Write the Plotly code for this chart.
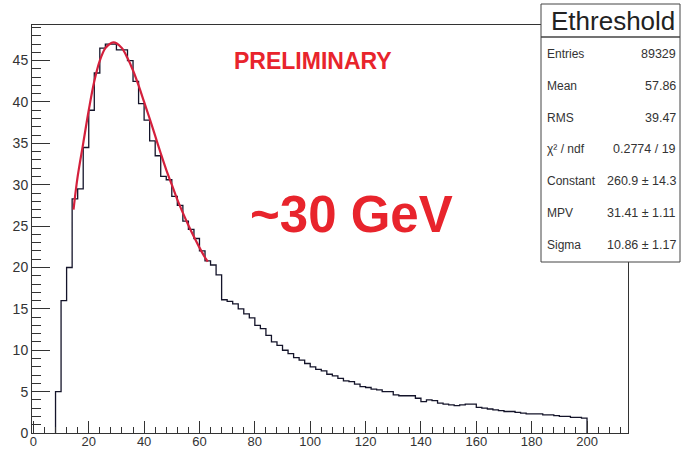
import plotly.graph_objects as go

# ---------------- data ----------------
bin_width = 2
bin_left_edges = list(range(8, 200, 2))  # 8 .. 198
counts = [
    5.0, 16.0, 20.0, 28.3, 29.5, 34.5, 39.0, 43.5, 46.5, 47.0,   # 8-26
    47.0, 46.3, 46.3, 45.0, 42.5, 39.8, 37.8, 35.3, 33.5, 31.0,  # 28-46
    30.6, 28.6, 27.5, 25.6, 24.6, 23.5, 22.0, 20.8, 20.3, 19.1,  # 48-66
    16.1, 15.9, 15.6, 15.0, 14.4, 13.9, 13.0, 12.6, 11.8, 11.0,  # 68-86
    10.6, 10.0, 9.6, 9.1, 8.8, 8.4, 8.0, 7.7, 7.5, 7.1,          # 88-106
    6.9, 6.6, 6.3, 6.2, 5.9, 5.6, 5.5, 5.3, 5.2, 5.0,            # 108-126
    5.0, 4.6, 4.5, 4.5, 4.5, 4.2, 3.8, 4.0, 3.9, 3.6,            # 128-146
    3.5, 3.4, 3.3, 3.4, 3.5, 3.5, 3.1, 3.0, 2.9, 2.8,            # 148-166
    2.7, 2.6, 2.6, 2.5, 2.4, 2.3, 2.3, 2.3, 2.2, 2.2,            # 168-186
    2.1, 2.0, 2.0, 1.9, 1.9, 1.8,                                # 188-198
]

fit_x = [14.5, 16, 18, 20, 22, 24, 26, 28, 29, 30, 32, 34, 36, 38, 40, 42,
         44, 46, 48, 50, 52, 54, 56, 58, 60, 62, 63]
fit_y = [27.0, 31.0, 35.0, 39.0, 42.5, 45.0, 46.5, 47.1, 47.2, 47.1, 46.5,
         45.3, 43.8, 42.0, 40.0, 38.0, 35.9, 33.8, 31.8, 30.0, 28.2, 26.6,
         25.1, 23.7, 22.4, 21.2, 20.7]

x_ticks = [0, 20, 40, 60, 80, 100, 120, 140, 160, 180, 200]
y_ticks = [0, 5, 10, 15, 20, 25, 30, 35, 40, 45]

stats_title = "Ethreshold"
stats_labels = ["Entries", "Mean", "RMS", "χ² / ndf", "Constant", "MPV", "Sigma"]
stats_values = ["89329", "57.86", "39.47", "0.2774 / 19", "260.9 ± 14.3", "31.41 ± 1.11", "10.86 ± 1.17"]

# ------------- build step line -------------
last_edge = bin_left_edges[-1] + bin_width
step_x = [bin_left_edges[0]] + bin_left_edges + [last_edge, last_edge]
step_y = [0] + counts + [counts[-1], 0]

W, H = 681, 449
L, R, T, B = 32, 628, 25, 433


def px(xp):
    return (xp - L) / (R - L)


def py(yp):
    return (B - yp) / (B - T)


fig = go.Figure()
fig.add_trace(go.Scatter(
    x=step_x, y=step_y, mode="lines", line_shape="hv",
    line=dict(color="#14142a", width=1.3), hoverinfo="skip", showlegend=False))
fig.add_trace(go.Scatter(
    x=fit_x, y=fit_y, mode="lines", line_shape="spline",
    line=dict(color="#d4203c", width=2.2), hoverinfo="skip", showlegend=False))

font_family = "Liberation Sans, Arial, Helvetica, sans-serif"

fig.update_layout(
    width=W, height=H,
    margin=dict(l=L, r=W - R, t=T, b=H - B, autoexpand=False),
    paper_bgcolor="white", plot_bgcolor="white",
    font=dict(family=font_family, color="#222"),
    xaxis=dict(
        range=[-0.5, 214.8], tickvals=x_ticks, ticktext=[str(v) for v in x_ticks],
        ticks="inside", ticklen=12, tickwidth=1, tickcolor="#333",
        minor=dict(ticks="inside", ticklen=6, dtick=4, tick0=0, tickcolor="#333"),
        showline=True, linecolor="#333", linewidth=1, mirror=True,
        showgrid=False, zeroline=False, automargin=False,
        ticklabelstandoff=-4,
        tickfont=dict(size=13, color="#333"),
    ),
    yaxis=dict(
        range=[0, 49.3], tickvals=y_ticks, ticktext=[str(v) for v in y_ticks],
        ticks="inside", ticklen=18, tickwidth=1.2, tickcolor="#333",
        minor=dict(ticks="inside", ticklen=9, dtick=1, tick0=0, tickcolor="#333"),
        showline=True, linecolor="#333", linewidth=1, mirror=True,
        showgrid=False, zeroline=False, automargin=False,
        tickfont=dict(size=14, color="#333"),
    ),
)

# red overlay texts
fig.add_annotation(xref="paper", yref="paper", x=px(313), y=py(61),
                   xanchor="center", yanchor="middle",
                   text="<b>PRELIMINARY</b>", showarrow=False,
                   font=dict(size=23, color="#e8242c", family=font_family))
fig.add_annotation(xref="paper", yref="paper", x=px(351), y=py(214),
                   xanchor="center", yanchor="middle",
                   text="<b>~30 GeV</b>", showarrow=False,
                   font=dict(size=51, color="#e8242c", family=font_family))

# stats box
box_l, box_r, box_t, box_sep, box_b = 541, 680, 4, 37, 262
fig.add_shape(type="rect", xref="paper", yref="paper",
              x0=px(box_l), x1=px(box_r), y0=py(box_b), y1=py(box_t),
              line=dict(color="#444", width=1), fillcolor="white", layer="above")
fig.add_shape(type="line", xref="paper", yref="paper",
              x0=px(box_l), x1=px(box_r), y0=py(box_sep), y1=py(box_sep),
              line=dict(color="#444", width=1.5), layer="above")
fig.add_annotation(xref="paper", yref="paper", x=px((box_l + box_r) / 2 + 2), y=py(21),
                   xanchor="center", yanchor="middle",
                   text=stats_title, showarrow=False,
                   font=dict(size=26, color="#222", family=font_family))
row_y0, row_dy = 54, 31.8
for i, (lab, val) in enumerate(zip(stats_labels, stats_values)):
    yy = py(row_y0 + i * row_dy)
    fig.add_annotation(xref="paper", yref="paper", x=px(545), y=yy,
                       xanchor="left", yanchor="middle",
                       text=lab, showarrow=False,
                       font=dict(size=12, color="#333", family=font_family))
    fig.add_annotation(xref="paper", yref="paper", x=px(678), y=yy,
                       xanchor="right", yanchor="middle",
                       text=val, showarrow=False,
                       font=dict(size=12.5, color="#333", family=font_family))

fig.write_html("out.html", config={"displayModeBar": False},
               post_script="document.body.style.margin='0';document.body.style.overflow='hidden';")
